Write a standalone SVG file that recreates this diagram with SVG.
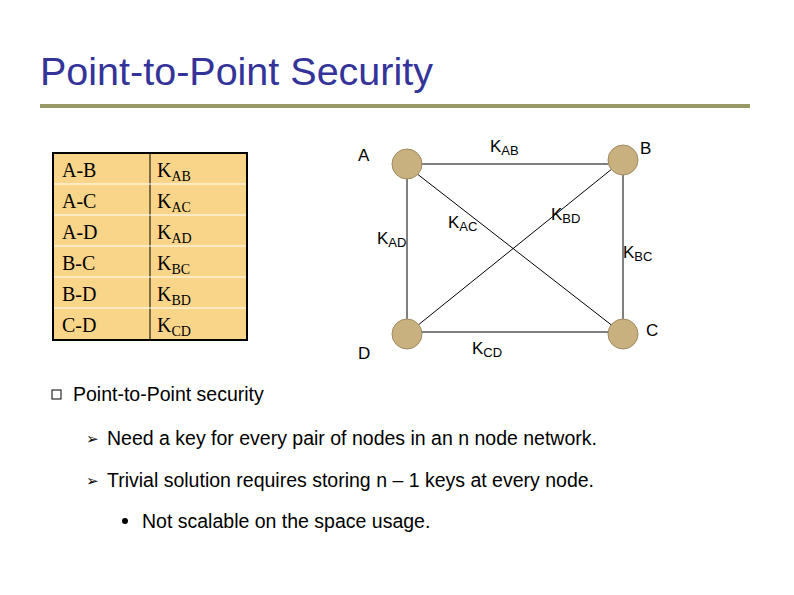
<svg xmlns="http://www.w3.org/2000/svg" width="794" height="595" viewBox="0 0 794 595">
<style>
.s{font-family:"Liberation Sans",Arial,sans-serif;fill:#000}
.t{font-family:"Liberation Serif","Times New Roman",serif;font-size:20px;fill:#000}
.n{fill:#c9b07f;stroke:#a08a60;stroke-width:1}
.e{stroke:#000;stroke-width:1;fill:none}
</style>
<rect width="794" height="595" fill="#fff"/>
<text class="s" x="40" y="85" font-size="39.5" style="fill:#333399">Point-to-Point Security</text>
<line x1="40" y1="106" x2="750" y2="106" stroke="#999966" stroke-width="4"/>
<g id="table">
<rect x="53" y="153" width="194" height="187" fill="#f9d58a" stroke="#000" stroke-width="2"/>
<line x1="150" y1="153" x2="150" y2="340" stroke="#000" stroke-width="1"/>
<g stroke="#fff" stroke-width="1"><line x1="54" y1="184" x2="246" y2="184"/><line x1="54" y1="215" x2="246" y2="215"/><line x1="54" y1="246" x2="246" y2="246"/><line x1="54" y1="277" x2="246" y2="277"/><line x1="54" y1="308" x2="246" y2="308"/></g>
<text class="t" x="62" y="177">A-B</text><text class="t" x="62" y="208">A-C</text><text class="t" x="62" y="239">A-D</text><text class="t" x="62" y="270">B-C</text><text class="t" x="62" y="301">B-D</text><text class="t" x="62" y="332">C-D</text>
<text class="t" x="157" y="177">K<tspan font-size="14" dy="4">AB</tspan></text>
<text class="t" x="157" y="208">K<tspan font-size="14" dy="4">AC</tspan></text>
<text class="t" x="157" y="239">K<tspan font-size="14" dy="4">AD</tspan></text>
<text class="t" x="157" y="270">K<tspan font-size="14" dy="4">BC</tspan></text>
<text class="t" x="157" y="301">K<tspan font-size="14" dy="4">BD</tspan></text>
<text class="t" x="157" y="332">K<tspan font-size="14" dy="4">CD</tspan></text>
</g>
<g id="connectors">
<line class="e" x1="407" y1="164" x2="623" y2="164"/>
<line class="e" x1="407" y1="166" x2="407" y2="334"/>
<line class="e" x1="623" y1="160" x2="623" y2="334"/>
<line class="e" x1="407" y1="332" x2="623" y2="332"/>
<line class="e" x1="407" y1="166" x2="623" y2="334" stroke-width="0.7"/>
<line class="e" x1="623" y1="160" x2="407" y2="334" stroke-width="0.7"/>
</g>
<g id="A"><circle class="n" cx="407" cy="164" r="15"/><text class="s" x="358" y="161" font-size="17">A</text></g>
<g id="B"><circle class="n" cx="623" cy="160" r="15"/><text class="s" x="640" y="154" font-size="17">B</text></g>
<g id="C"><circle class="n" cx="623" cy="334" r="15"/><text class="s" x="646" y="336" font-size="17">C</text></g>
<g id="D"><circle class="n" cx="407" cy="334" r="15"/><text class="s" x="358" y="359" font-size="17">D</text></g>
<g id="labels">
<text class="s" x="490" y="152" font-size="17">K<tspan font-size="13" dy="3">AB</tspan></text>
<text class="s" x="448" y="228" font-size="17">K<tspan font-size="13" dy="3">AC</tspan></text>
<text class="s" x="551" y="220" font-size="17">K<tspan font-size="13" dy="3">BD</tspan></text>
<text class="s" x="377" y="244" font-size="17">K<tspan font-size="13" dy="3">AD</tspan></text>
<text class="s" x="623" y="258" font-size="17">K<tspan font-size="13" dy="3">BC</tspan></text>
<text class="s" x="472" y="354" font-size="17">K<tspan font-size="13" dy="3">CD</tspan></text>
</g>
<g id="bullets">
<rect x="52" y="390" width="9" height="9" fill="none" stroke="#000" stroke-width="1"/>
<text class="s" x="73" y="401" font-size="19.5">Point-to-Point security</text>
<text class="s" x="86" y="444" font-size="15">➢</text>
<text class="s" x="107" y="445" font-size="19.5">Need a key for every pair of nodes in an n node network.</text>
<text class="s" x="86" y="486" font-size="15">➢</text>
<text class="s" x="107" y="487" font-size="19.5">Trivial solution requires storing n – 1 keys at every node.</text>
<circle cx="125" cy="521" r="3" fill="#000"/>
<text class="s" x="142" y="528" font-size="19.5">Not scalable on the space usage.</text>
</g>
</svg>
